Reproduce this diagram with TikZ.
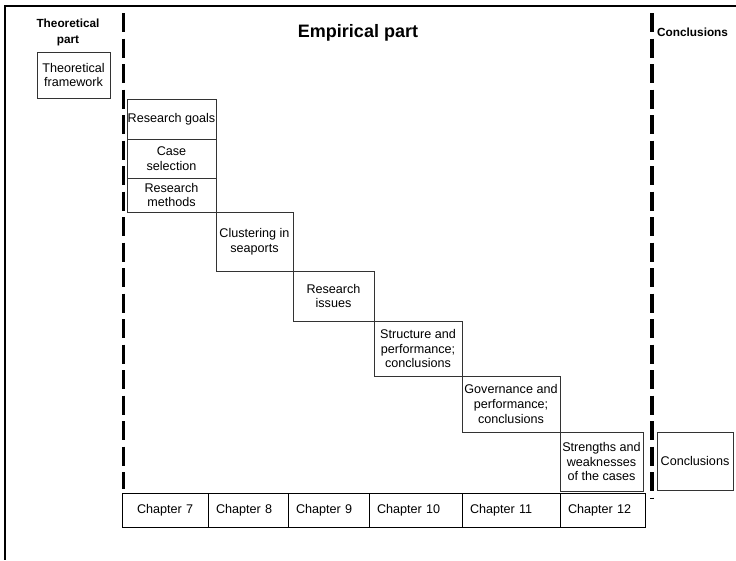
\documentclass[tikz,border=0pt]{standalone}
\usepackage{fontspec}
\setmainfont{Liberation Sans}
\begin{document}
\begin{tikzpicture}[x=1pt,y=-1pt,
  stage/.style={draw=black!80,line width=0.9pt,align=center,inner sep=0pt,
    font=\fontsize{12.6}{14.6}\selectfont},
  chap/.style={draw=black,line width=0.95pt,align=left,inner ysep=0pt,inner xsep=8pt,
    minimum height=34pt,font=\fontsize{12.6}{14.6}\selectfont},
  head/.style={align=center,inner sep=0pt,font=\fontsize{11.8}{16}\selectfont\bfseries},
  divider/.style={line width=3.3pt,dash pattern=on 19pt off 6.5pt},
  frame/.style={line width=1.5pt}]
\useasboundingbox (0,0) rectangle (736,560);

% frame (top and left edges)
\coordinate (ftl) at (5,6);
\coordinate (ftr) at (736,6);
\coordinate (fbl) at (5,560);
\draw[frame] (ftr) -- (ftl) -- (fbl);

% section dividers
\coordinate (d1t) at (123.5,13);
\coordinate (d1b) at (123.5,489);
\coordinate (d2t) at (652,13);
\coordinate (d2b) at (652,498);
\draw[divider] (d1t) -- (d1b);
\draw[divider] (d2t) -- (d2b);

% headings
\node[head] (hth) at (68,32) {Theoretical\\part};
\node[head,font=\fontsize{18}{20}\selectfont\bfseries] (hemp) at (358,33) {Empirical part};
\node[head,anchor=west] (hcon) at (657,32) {Conclusions};

% theoretical part
\node[stage,minimum width=73pt,minimum height=46pt] (tf) at (73.5,75) {Theoretical\\framework};

% empirical part, staircase of stages
\node[stage,minimum width=89pt,minimum height=40pt] (rg) at (171.5,119) {Research goals};
\node[stage,minimum width=89pt,minimum height=39pt] (cs) at (171.5,158.5) {Case\\selection};
\node[stage,minimum width=89pt,minimum height=34pt] (rm) at (171.5,195) {Research\\methods};
\node[stage,minimum width=77pt,minimum height=59pt] (cl) at (254.5,241.5) {Clustering in\\seaports};
\node[stage,minimum width=81pt,minimum height=50pt] (ri) at (333.5,296) {Research\\issues};
\node[stage,minimum width=88pt,minimum height=55pt] (sp) at (418,348.5) {Structure and\\performance;\\conclusions};
\node[stage,minimum width=98pt,minimum height=56pt] (gp) at (511,404) {Governance and\\performance;\\conclusions};
\node[stage,minimum width=83pt,minimum height=59pt] (sw) at (601.5,461.5) {Strengths and\\weaknesses\\of the cases};

% conclusions
\node[stage,minimum width=76pt,minimum height=58pt] (co) at (695,461) {Conclusions};

% chapter row
\node[chap,text width=70pt] (c7) at (165,510) {\hspace*{7pt}Chapter 7};
\node[chap,text width=64pt] (c8) at (248,510) {Chapter 8};
\node[chap,text width=65pt] (c9) at (328.5,510) {Chapter 9};
\node[chap,text width=77pt] (c10) at (415.5,510) {Chapter 10};
\node[chap,text width=82pt] (c11) at (511,510) {Chapter 11};
\node[chap,text width=69pt] (c12) at (602.5,510) {Chapter 12};
\end{tikzpicture}
\end{document}
